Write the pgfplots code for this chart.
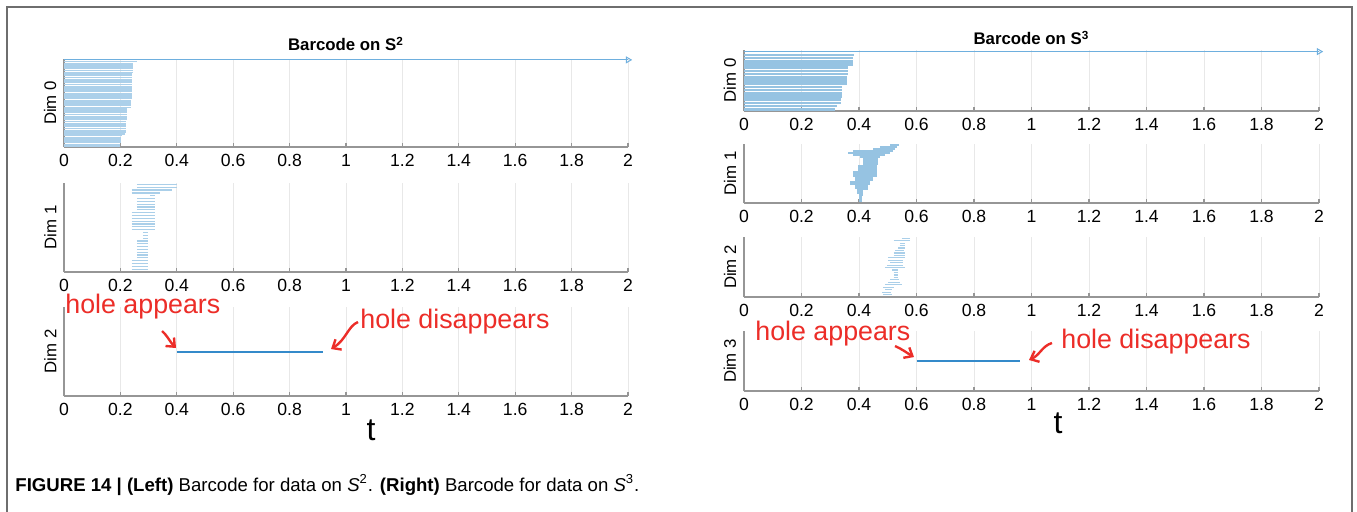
\documentclass[border=0pt]{standalone}
\usepackage{fontspec}
\setmainfont{Liberation Sans}
\usepackage{pgfplots}
\usepackage{pgfplotstable}
\pgfplotsset{compat=1.18}
\usetikzlibrary{arrows.meta}

\definecolor{axgray}{RGB}{150,150,150}
\definecolor{gridgray}{RGB}{232,232,232}
\definecolor{barA}{RGB}{170,207,233}
\definecolor{barL}{RGB}{172,208,234}
\definecolor{barB}{RGB}{150,195,226}
\definecolor{infblue}{RGB}{110,175,222}
\definecolor{holeblue}{RGB}{52,138,202}
\definecolor{annred}{RGB}{236,45,40}
\definecolor{framegray}{RGB}{110,110,110}

% ---------- data: index, birth, death ----------
\pgfplotstableread{
i b d
1 0 0.200
2 0 0.200
3 0 0.201
4 0 0.202
5 0 0.202
6 0 0.203
7 0 0.204
8 0 0.218
9 0 0.219
10 0 0.219
11 0 0.220
12 0 0.220
13 0 0.221
14 0 0.221
15 0 0.221
16 0 0.222
17 0 0.222
18 0 0.222
19 0 0.223
20 0 0.223
21 0 0.223
22 0 0.224
23 0 0.238
24 0 0.238
25 0 0.239
26 0 0.239
27 0 0.239
28 0 0.240
29 0 0.240
30 0 0.240
31 0 0.240
32 0 0.241
33 0 0.241
34 0 0.241
35 0 0.241
36 0 0.241
37 0 0.242
38 0 0.242
39 0 0.242
40 0 0.242
41 0 0.242
42 0 0.242
43 0 0.243
44 0 0.243
45 0 0.243
46 0 0.243
47 0 0.244
48 0 0.244
49 0 0.258
}\Lzero

\pgfplotstableread{
i b d
1 0.240 0.298
2 0.240 0.298
3 0.240 0.298
4 0.240 0.298
5 0.258 0.298
6 0.258 0.298
7 0.258 0.298
8 0.258 0.298
9 0.258 0.298
10 0.258 0.298
11 0.258 0.298
12 0.280 0.298
13 0.280 0.298
14 0.280 0.298
15 0.240 0.323
16 0.240 0.323
17 0.240 0.323
18 0.240 0.323
19 0.240 0.323
20 0.240 0.323
21 0.240 0.323
22 0.258 0.323
23 0.258 0.323
24 0.258 0.323
25 0.258 0.323
26 0.258 0.323
27 0.305 0.323
28 0.240 0.340
29 0.240 0.382
30 0.258 0.400
31 0.258 0.400
}\Lone

\pgfplotstableread{
i b d
1 0 0.318
2 0 0.322
3 0 0.338
4 0 0.339
5 0 0.340
6 0 0.340
7 0 0.341
8 0 0.342
9 0 0.357
10 0 0.358
11 0 0.359
12 0 0.360
13 0 0.360
14 0 0.362
15 0 0.378
16 0 0.379
17 0 0.380
18 0 0.381
}\Rzero

\pgfplotstableread{
i b d
1 0.400 0.410
2 0.400 0.410
3 0.400 0.410
4 0.400 0.414
5 0.393 0.414
6 0.393 0.414
7 0.393 0.430
8 0.386 0.430
9 0.386 0.430
10 0.369 0.438
11 0.369 0.438
12 0.386 0.450
13 0.386 0.450
14 0.380 0.462
15 0.380 0.462
16 0.380 0.462
17 0.397 0.462
18 0.397 0.462
19 0.397 0.462
20 0.414 0.466
21 0.414 0.466
22 0.414 0.466
23 0.414 0.466
24 0.403 0.473
25 0.380 0.490
26 0.362 0.508
27 0.380 0.518
28 0.450 0.525
29 0.473 0.532
30 0.508 0.540
}\Rone

\pgfplotstableread{
i b d
1 0.484 0.514
2 0.480 0.510
3 0.490 0.514
4 0.484 0.520
5 0.490 0.548
6 0.500 0.543
7 0.508 0.539
8 0.520 0.536
9 0.520 0.536
10 0.520 0.536
11 0.514 0.536
12 0.490 0.560
13 0.497 0.553
14 0.508 0.553
15 0.500 0.553
16 0.500 0.560
17 0.520 0.560
18 0.520 0.560
19 0.525 0.558
20 0.536 0.560
21 0.541 0.560
22 0.543 0.560
23 0.520 0.577
24 0.548 0.577
}\Rtwo

\pgfplotsset{
  bc/.style={
    scale only axis, clip=false,
    xmin=0, xmax=2,
    xtick={0,0.2,0.4,0.6,0.8,1,1.2,1.4,1.6,1.8,2},
    xticklabels={0,0.2,0.4,0.6,0.8,1,1.2,1.4,1.6,1.8,2},
    ytick=\empty,
    axis x line*=bottom, axis y line*=left,
    axis line style={draw=axgray, line width=0.6pt, -},
    xtick align=inside, major tick length=2.2pt,
    xtick style={draw=axgray, line width=0.6pt},
    xmajorgrids, grid style={draw=gridgray, line width=0.45pt},
    /pgf/number format/assume math mode=true,
    tick label style={font=\fontsize{8.8}{10}\selectfont, text=black},
    ylabel style={font=\fontsize{8.4}{10}\selectfont, at={(axis description cs:-0.013,0.5)}, anchor=south, inner sep=0pt},
    title style={font=\bfseries\fontsize{8.4}{10}\selectfont},
  },
  bars/.style 2 args={draw=none, no markers, forget plot,
    error bars/.cd, x dir=plus, x explicit, error mark=none,
    error bar style={line width=#1, draw=#2}},
}

\begin{document}
\begin{tikzpicture}
\useasboundingbox (0pt,0pt) rectangle (678.5pt,-255.5pt);

% ================= LEFT : S^2 =================
\begin{axis}[bc, at={(32pt,-73.5pt)}, anchor=south west, width=282pt, height=44pt,
  ymin=0.5, ymax=50.5, ylabel={Dim 0}, title={Barcode on S\textsuperscript{2}},
  title style={yshift=-5.5pt}]
  \addplot[bars={0.7pt}{barL}] table[x=b, y=i, x error expr=\thisrow{d}-\thisrow{b}] {\Lzero};
  \addplot[draw=infblue, line width=0.5pt, mark=triangle, mark indices={2}, mark size=1.6pt,
    mark options={rotate=-90, draw=infblue, fill=white}] coordinates {(0,50) (2,50)};
\end{axis}

\begin{axis}[bc, at={(32pt,-136pt)}, anchor=south west, width=282pt, height=44.5pt,
  ymin=0, ymax=31.5, ylabel={Dim 1}]
  \addplot[bars={0.6pt}{barA}] table[x=b, y=i, x error expr=\thisrow{d}-\thisrow{b}] {\Lone};
\end{axis}

\begin{axis}[bc, at={(32pt,-198pt)}, anchor=south west, width=282pt, height=44.5pt,
  ymin=0, ymax=2, ylabel={Dim 2}]
  \addplot[draw=holeblue, line width=1pt] coordinates {(0.4,1) (0.92,1)};
\end{axis}

% ================= RIGHT : S^3 =================
\begin{axis}[bc, at={(372pt,-55.5pt)}, anchor=south west, width=287.5pt, height=30.5pt,
  ymin=0.5, ymax=19.5, ylabel={Dim 0}, title={Barcode on S\textsuperscript{3}},
  title style={yshift=-7pt}]
  \addplot[bars={1.3pt}{barB}] table[x=b, y=i, x error expr=\thisrow{d}-\thisrow{b}] {\Rzero};
  \addplot[draw=infblue, line width=0.5pt, mark=triangle, mark indices={2}, mark size=1.6pt,
    mark options={rotate=-90, draw=infblue, fill=white}] coordinates {(0,19) (2,19)};
\end{axis}

\begin{axis}[bc, at={(372pt,-101.5pt)}, anchor=south west, width=287.5pt, height=29.5pt,
  ymin=0, ymax=30.5, ylabel={Dim 1}]
  \addplot[bars={1pt}{barB}] table[x=b, y=i, x error expr=\thisrow{d}-\thisrow{b}] {\Rone};
\end{axis}

\begin{axis}[bc, at={(372pt,-148.5pt)}, anchor=south west, width=287.5pt, height=30pt,
  ymin=0, ymax=24.5, ylabel={Dim 2}]
  \addplot[bars={0.6pt}{barA}] table[x=b, y=i, x error expr=\thisrow{d}-\thisrow{b}] {\Rtwo};
\end{axis}

\begin{axis}[bc, at={(372pt,-195.5pt)}, anchor=south west, width=287.5pt, height=30pt,
  ymin=0, ymax=2, ylabel={Dim 3}]
  \addplot[draw=holeblue, line width=1pt] coordinates {(0.6,1) (0.96,1)};
\end{axis}

% ================= annotations (pixel grid) =================
\begin{scope}[x=0.5pt, y=-0.5pt]
  \draw[framegray, line width=0.75pt] (7,520) -- (7,7) -- (1352,7) -- (1352,520);
  \node[font=\fontsize{16}{18}\selectfont] at (371,430) {t};
  \node[font=\fontsize{16}{18}\selectfont] at (1058,423) {t};
  \begin{scope}[annred, font=\fontsize{13.4}{16}\selectfont]
    \node[anchor=west, inner sep=0pt] at (65,307) {hole appears};
    \node[anchor=west, inner sep=0pt] at (360,322) {hole disappears};
    \node[anchor=west, inner sep=0pt] at (755,334) {hole appears};
    \node[anchor=west, inner sep=0pt] at (1061,342) {hole disappears};
    \draw[line width=1.2pt, -{Straight Barb[length=3.5pt, width=6pt]}] (162,331) .. controls (167,335) and (170,342) .. (176,348);
    \draw[line width=1.2pt, -{Straight Barb[length=3.5pt, width=6pt]}] (358,322) .. controls (348,326) and (346,340) .. (331,349);
    \draw[line width=1.2pt, -{Straight Barb[length=3.5pt, width=6pt]}] (895,346) .. controls (902,349) and (907,353) .. (914,357);
    \draw[line width=1.2pt, -{Straight Barb[length=3.5pt, width=6pt]}] (1052,343) .. controls (1042,346) and (1040,355) .. (1029,360);
  \end{scope}
  \node[anchor=base west, inner sep=0pt, font=\fontsize{9.3}{11}\selectfont] at (15,491)
    {\textbf{FIGURE 14 | (Left)} Barcode for data on \textit{S}\textsuperscript{2}. \textbf{(Right)} Barcode for data on \textit{S}\textsuperscript{3}.};
\end{scope}
\end{tikzpicture}
\end{document}
